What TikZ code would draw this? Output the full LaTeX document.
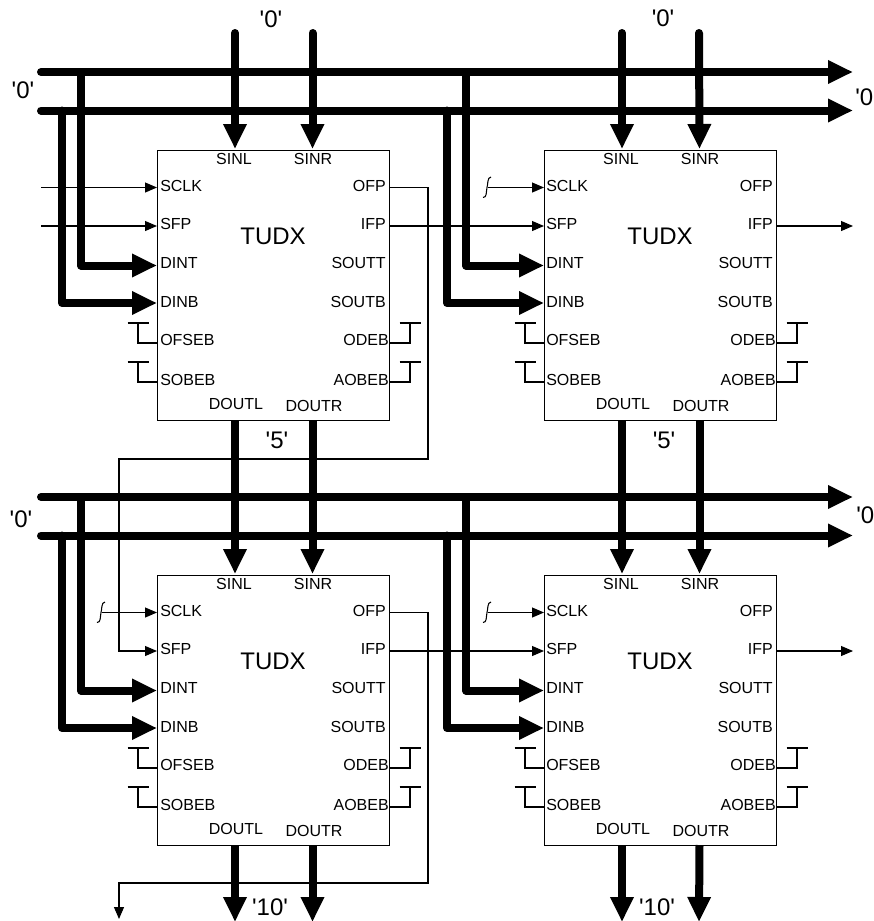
\documentclass[tikz,border=0pt]{standalone}
\usepackage{fontspec}
\setmainfont{Liberation Sans}
\usetikzlibrary{arrows.meta, positioning}
\newcommand{\qt}{\textquotesingle}

\begin{document}
\begin{tikzpicture}[
          x=0.75pt, y=-0.75pt,
          block/.style={draw, line width=0.75pt, minimum width=174pt, minimum height=202.5pt, inner sep=0pt},
          pinl/.style={font=\fontsize{12}{14}\selectfont, inner sep=0pt, anchor=west},
          pinr/.style={font=\fontsize{12}{14}\selectfont, inner sep=0pt, anchor=east},
          pinc/.style={font=\fontsize{12}{14}\selectfont, inner sep=0pt},
          big/.style={font=\fontsize{18}{20}\selectfont, inner sep=0pt},
          sig/.style={line width=0.8pt},
          ar/.style={sig, -{Triangle[length=9pt, width=7.5pt]}},
          tiebar/.style={line width=1.9pt},
          bus/.style={line width=6pt, line cap=round, line join=round},
          busar/.style={bus, -{Triangle[length=18.75pt, width=16.5pt]}}
        ]
        \useasboundingbox (0,0) rectangle (874,921);
        % the four blocks, pins and tie-offs
        \foreach \b/\dx/\dy/\cx/\o in {a/0/0/41/0, b/387/0/101/-2, c/0/425/102/0, d/387/425/101/-2} {
          \begin{scope}[shift={(\dx,\dy)}]
            \node[block] (\b) at (273,285) {};
            \node[big] (\b-name) at (273,236) {TUDX};
            \foreach \n/\ly in {SCLK/186, SFP/224, DINT/263, DINB/302, OFSEB/340, SOBEB/380}
              \node[pinl] (\b-\n-txt) at (160+0.5*\o,\ly) {\n};
            \foreach \n/\ly in {OFP/186, IFP/224, SOUTT/263, SOUTB/302}
              \node[pinr] (\b-\n-txt) at (386,\ly) {\n};
            \foreach \n/\ly in {ODEB/340, AOBEB/380}
              \node[pinr] (\b-\n-txt) at (389,\ly) {\n};
            \node[pinc] (\b-SINL-txt) at (234,159) {SINL};
            \node[pinc] (\b-SINR-txt) at (313,159) {SINR};
            \node[pinc] (\b-DOUTL-txt) at (236,404) {DOUTL};
            \node[pinc] (\b-DOUTR-txt) at (314,406) {DOUTR};
            % ports on the border
            \coordinate (\b-sinl) at (235,149);
            \coordinate (\b-sinr) at (312.5,149);
            \coordinate (\b-doutl) at (235,420);
            \coordinate (\b-doutr) at (312.5,420);
            \coordinate (\b-sclk) at (157,187.5);
            \coordinate (\b-sfp) at (157,226);
            \coordinate (\b-dint) at (157,265.5);
            \coordinate (\b-dinb) at (157,303);
            \coordinate (\b-ofp) at (389,187.5);
            \coordinate (\b-ifp) at (389,226);
            \coordinate (\b-clk) at (\cx,187.5);
            \coordinate (\b-tapt) at (81+\o,72);
            \coordinate (\b-tapb) at (62+\o,110.5);
            \foreach \n/\ty/\px/\sx in {ofseb/323/157/138, sobeb/362/157/138, odeb/323/389/410, aobeb/362/389/410} {
              \coordinate (\b-\n) at (\px,\ty+20);
              \coordinate (\b-\n-s) at (\sx,\ty);
              \coordinate (\b-\n-l) at ({\sx-10.5},\ty);
              \coordinate (\b-\n-r) at ({\sx+10.5},\ty);
              \draw[sig] (\b-\n) -| (\b-\n-s);
              \draw[tiebar] (\b-\n-l) -- (\b-\n-r);
            }
          \end{scope}
        }
        % free ends
        \coordinate (a-sfpin) at (41,226);
        \coordinate (b-out) at (853,226);
        \coordinate (d-out) at (853,651);
        \coordinate (route1) at (428,459);
        \coordinate (route2) at (119,459);
        \coordinate (route3) at (428,883);
        \coordinate (route4) at (119,883);
        \coordinate (c-end) at (119,919);
        % clock and frame signals
        \foreach \b in {a,b,c,d}
          \draw[ar] (\b-clk) -- (\b-sclk);
        \foreach \b in {b,c,d} {
          \begin{scope}[shift={(\b-clk)}]
            \draw[sig] (3,-10.5) .. controls (-1,-10.5) and (0,-2) .. (-1,0) .. controls (-2,5) and (-1,10) .. (-5,10);
          \end{scope}
        }
        \draw[ar] (a-sfpin) -- (a-sfp);
        \draw[ar] (a-ifp) -- (b-sfp);
        \draw[ar] (c-ifp) -- (d-sfp);
        \draw[ar] (b-ifp) -- (b-out);
        \draw[ar] (d-ifp) -- (d-out);
        \draw[ar] (a-ofp) -| (route1) -- (route2) |- (c-sfp);
        \draw[ar] (c-ofp) -| (route3) -- (route4) -- (c-end);
        % buses
        \foreach \r/\dy in {top/0, low/425} {
          \begin{scope}[shift={(0,\dy)}]
            \coordinate (\r-1s) at (41,72);
            \coordinate (\r-1e) at (853,72);
            \coordinate (\r-2s) at (41,110.5);
            \coordinate (\r-2e) at (853,110.5);
          \end{scope}
          \draw[busar] (\r-1s) -- (\r-1e);
          \draw[busar] (\r-2s) -- (\r-2e);
        }
        \foreach \b in {a,b,c,d} {
          \draw[busar] (\b-tapt) |- (\b-dint);
          \draw[busar] (\b-tapb) |- (\b-dinb);
        }
        % data in and out
        \coordinate (a-top-l) at (235,33);
        \coordinate (a-top-r) at (312.5,33);
        \coordinate (b-top-l) at (622,33);
        \coordinate (b-top-r) at (699,33);
        \coordinate (c-end-l) at (235,922);
        \coordinate (c-end-r) at (312.5,922);
        \coordinate (d-end-l) at (622,922);
        \coordinate (d-end-r) at (699,922);
        \foreach \b in {a,b} {
          \draw[busar] (\b-top-l) -- (\b-sinl);
          \draw[busar] (\b-top-r) -- (\b-sinr);
        }
        \draw[busar, line cap=butt] (a-doutl) -- (c-sinl);
        \draw[busar, line cap=butt] (a-doutr) -- (c-sinr);
        \draw[busar, line cap=butt] (b-doutl) -- (d-sinl);
        \draw[busar, line cap=butt] (b-doutr) -- (d-sinr);
        \draw[busar, line cap=butt] (c-doutl) -- (c-end-l);
        \draw[busar, line cap=butt] (c-doutr) -- (c-end-r);
        \draw[busar, line cap=butt] (d-doutl) -- (d-end-l);
        \draw[busar, line cap=butt] (d-doutr) -- (d-end-r);
        % values
        \node[big] (v1) at (271,19) {\qt0\qt};
        \node[big] (v2) at (663,18) {\qt0\qt};
        \node[big] (v3) at (23,90) {\qt0\qt};
        \node[big, anchor=west] (v4) at (855,97) {\qt0};
        \node[big] (v5) at (21,519) {\qt0\qt};
        \node[big, anchor=west] (v6) at (856,515) {\qt0};
        \node[big] (v7) at (277,440) {\qt5\qt};
        \node[big] (v8) at (664,440) {\qt5\qt};
        \node[big] (v9) at (270,907.5) {\qt10\qt};
        \node[big] (v10) at (657,907.5) {\qt10\qt};
      \end{tikzpicture}
\end{document}
